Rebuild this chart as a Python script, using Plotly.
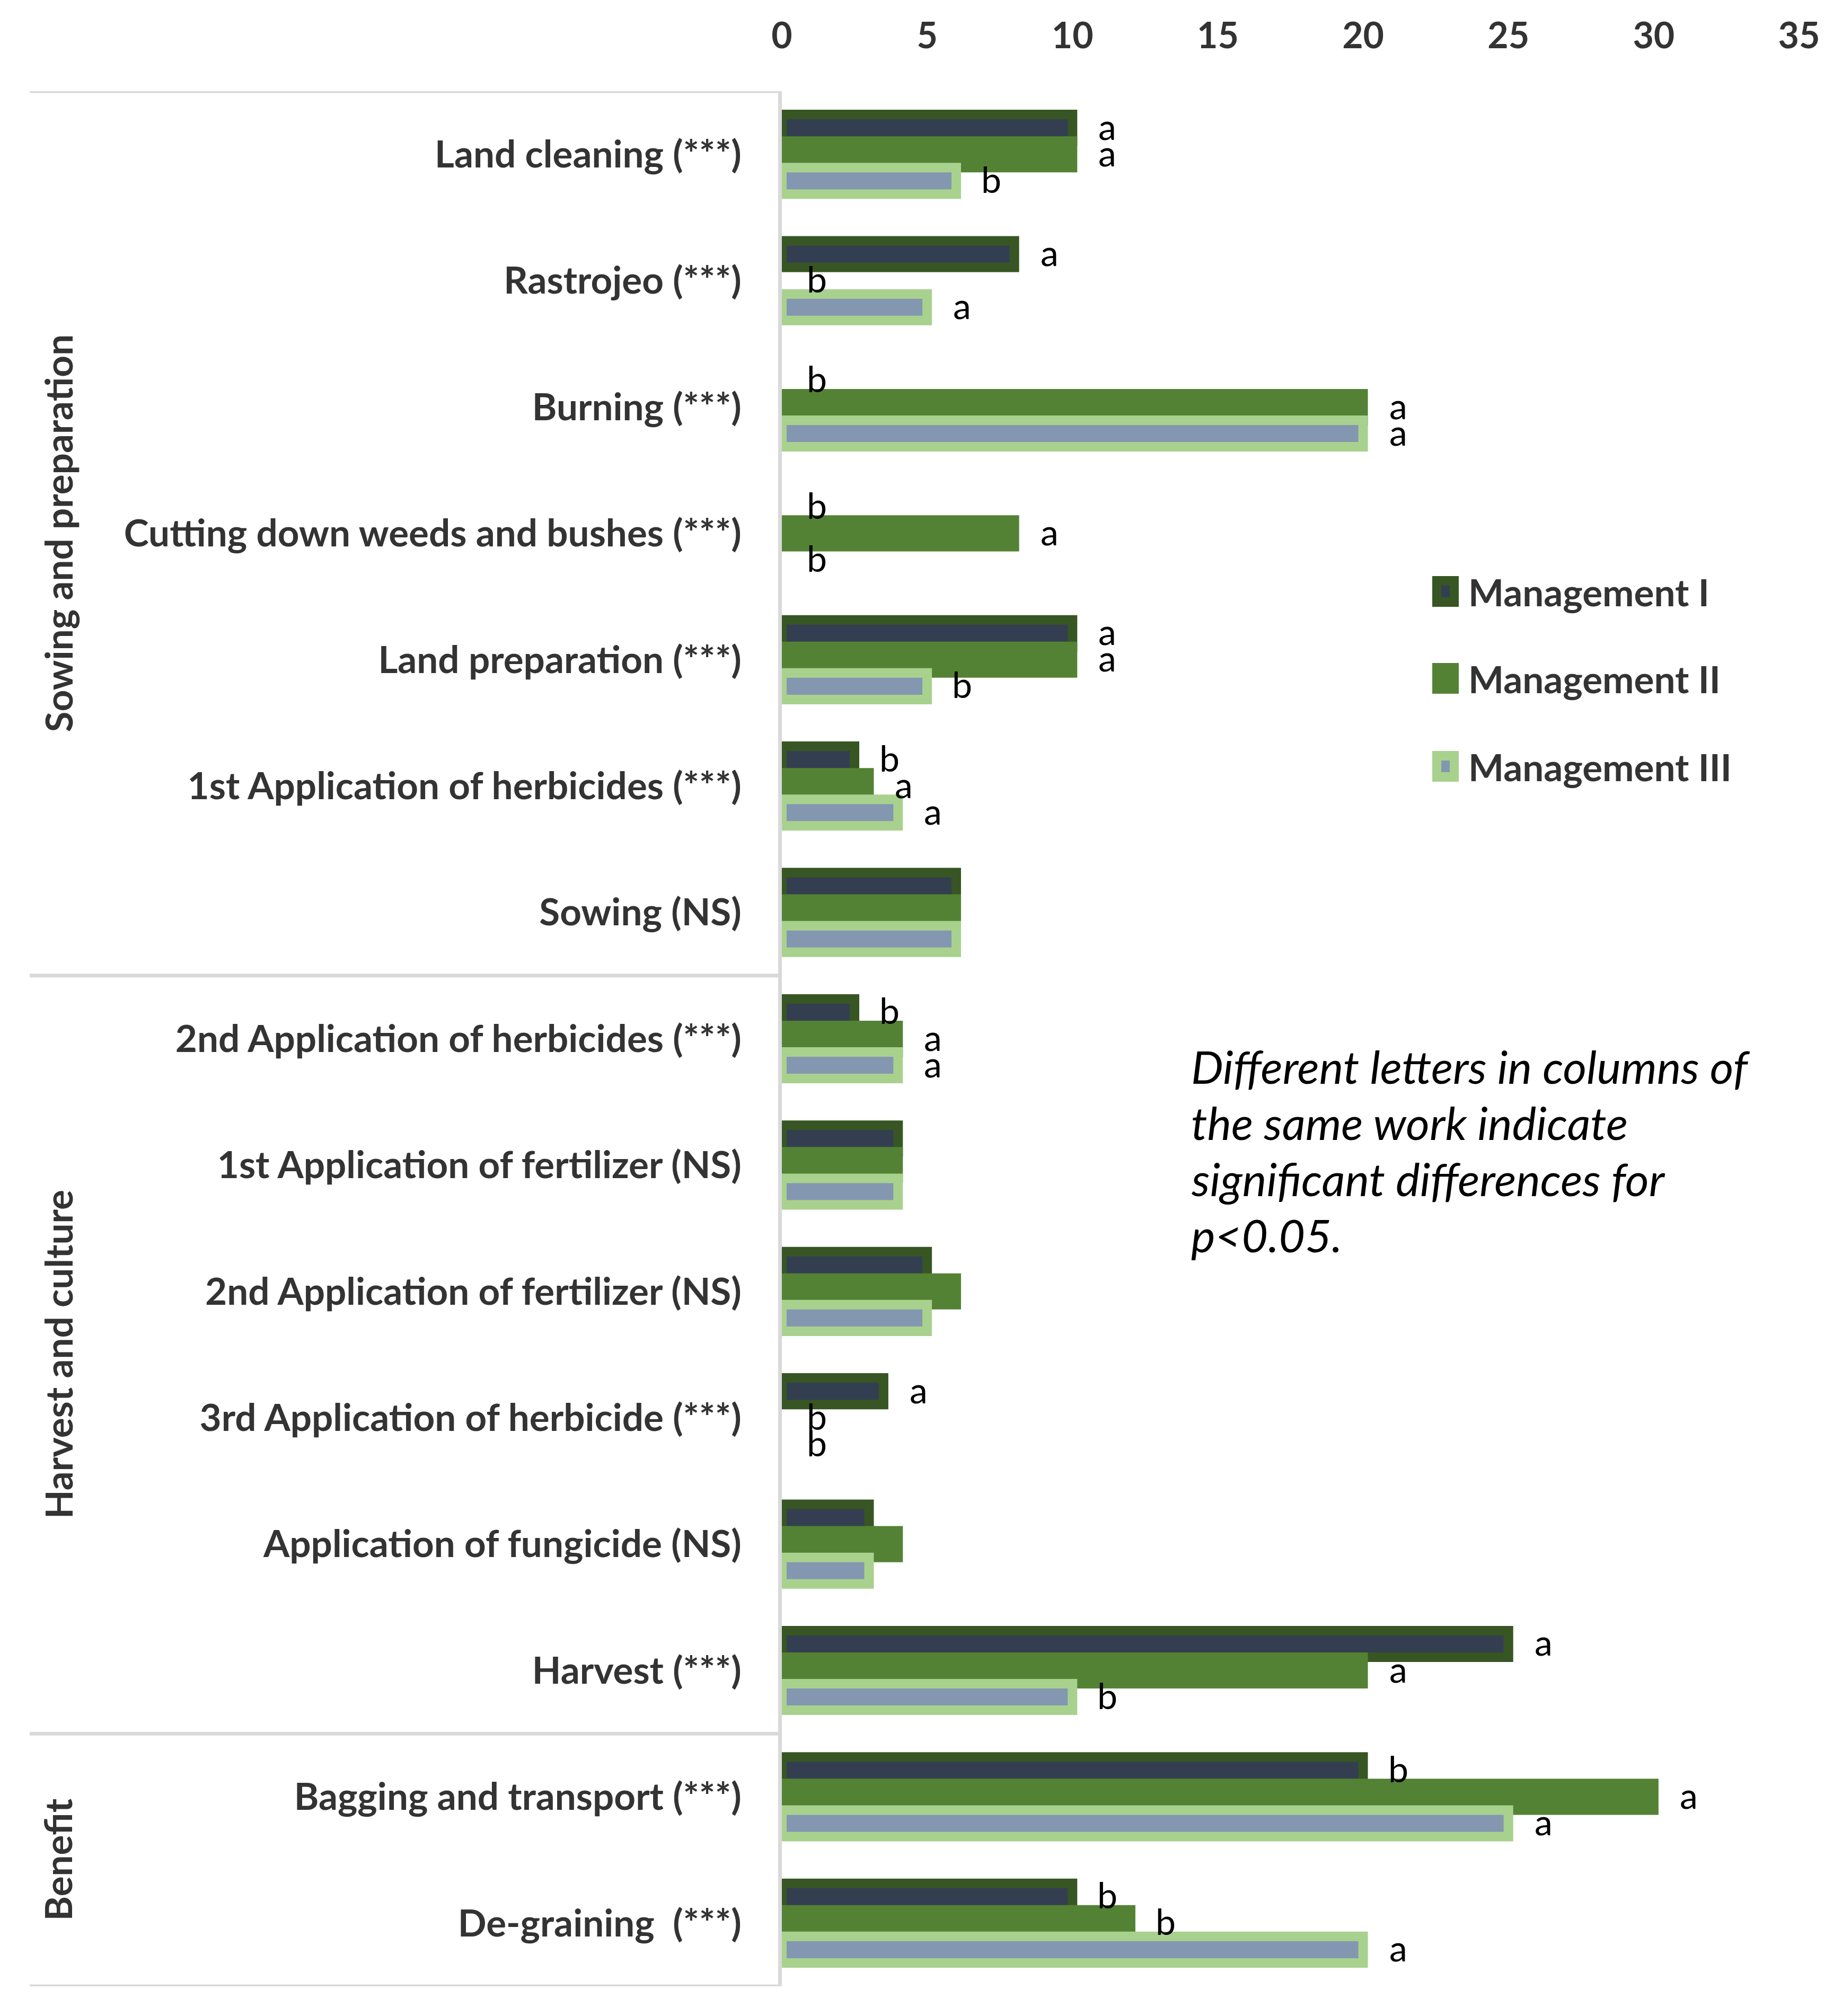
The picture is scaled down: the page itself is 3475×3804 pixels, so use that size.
import plotly.graph_objects as go

categories = [
    "Land cleaning (***)", "Rastrojeo (***)", "Burning (***)",
    "Cutting down weeds and bushes (***)", "Land preparation (***)",
    "1st Application of herbicides (***)", "Sowing (NS)",
    "2nd Application of herbicides (***)", "1st Application of fertilizer (NS)",
    "2nd Application of fertilizer (NS)", "3rd Application of herbicide (***)",
    "Application of fungicide (NS)", "Harvest (***)",
    "Bagging and transport (***)", "De-graining  (***)",
]
group_names = ["Sowing and preparation", "Harvest and culture", "Benefit"]
group_sizes = [7, 6, 2]
series_names = ["Management I", "Management II", "Management III"]
mgmt_1 = [10, 8, 0, 0, 10, 2.5, 6, 2.5, 4, 5, 3.5, 3, 25, 20, 10]
mgmt_2 = [10, 0, 20, 8, 10, 3, 6, 4, 4, 6, 0, 4, 20, 30, 12]
mgmt_3 = [6, 5, 20, 0, 5, 4, 6, 4, 4, 5, 0, 3, 10, 25, 20]
letters_1 = ["a", "a", "b", "b", "a", "b", "", "b", "", "", "a", "", "a", "b", "b"]
letters_2 = ["a", "b", "a", "a", "a", "a", "", "a", "", "", "b", "", "a", "a", "b"]
letters_3 = ["b", "a", "a", "b", "b", "a", "", "a", "", "", "b", "", "b", "a", "a"]
x_ticks = [0, 5, 10, 15, 20, 25, 30, 35]
note_lines = [
    "Different letters in columns of",
    "the same work indicate",
    "significant differences for",
    "p<0.05.",
]

fill_colors = ["#333F50", "#548235", "#8497B0"]
line_colors = ["#375623", "#548235", "#A9D18E"]

W, H = 3475, 3804
ML, MR, MT, MB = 1467, 89, 164, 64
PW = W - ML - MR
PH = H - MT - MB
FONT = "Lato"
TXT = "#333333"


def px_to_paper_x(px):
    return (px - ML) / PW


def px_to_paper_y(py):
    return 1 - (py - MT) / PH


bar_w = 0.21
values = [mgmt_1, mgmt_2, mgmt_3]
letters = [letters_1, letters_2, letters_3]
pos = list(range(len(categories)))

fig = go.Figure()
for k in range(3):
    vals = [v if v > 0 else None for v in values[k]]
    fig.add_trace(go.Bar(
        x=vals, y=pos, orientation="h", name=series_names[k],
        width=bar_w, offset=(k - 1) * bar_w - bar_w / 2,
        marker=dict(color=fill_colors[k], line=dict(color=line_colors[k], width=18)),
        showlegend=False,
    ))

annotations = []
for k in range(3):
    for i, (v, t) in enumerate(zip(values[k], letters[k])):
        if not t:
            continue
        annotations.append(dict(
            x=v, y=i + (k - 1) * bar_w, xref="x", yref="y", text=t,
            showarrow=False, xanchor="center", yanchor="middle", xshift=66, yshift=4,
            font=dict(family=FONT, size=68, color="#000000"),
        ))

# group labels and separator lines
shapes = []
start = -0.5
bounds = [start]
for gname, gsize in zip(group_names, group_sizes):
    end = start + gsize
    annotations.append(dict(
        x=px_to_paper_x(101), y=(start + end) / 2, xref="paper", yref="y",
        text=gname, textangle=-90, showarrow=False, xanchor="center", yanchor="middle",
        font=dict(family=FONT, size=71, color=TXT, weight="bold"),
    ))
    bounds.append(end)
    start = end
for b in bounds:
    shapes.append(dict(type="line", xref="paper", yref="y",
                       x0=px_to_paper_x(48), x1=0, y0=b, y1=b,
                       line=dict(color="#D9D9D9", width=7)))

# legend (manual swatches)
leg_y = [1108, 1272, 1438]
for k in range(3):
    cy = px_to_paper_y(leg_y[k])
    cx = px_to_paper_x(2719)
    shapes.append(dict(type="rect", xref="paper", yref="paper",
                       xsizemode="pixel", ysizemode="pixel", xanchor=cx, yanchor=cy,
                       x0=-25, x1=25, y0=-29, y1=29,
                       fillcolor=line_colors[k], line=dict(width=0)))
    shapes.append(dict(type="rect", xref="paper", yref="paper",
                       xsizemode="pixel", ysizemode="pixel", xanchor=cx, yanchor=cy,
                       x0=-8, x1=8, y0=-11, y1=11,
                       fillcolor=fill_colors[k], line=dict(width=0)))
    annotations.append(dict(
        x=px_to_paper_x(2760), y=cy, xref="paper", yref="paper",
        text=series_names[k], showarrow=False, xanchor="left", yanchor="middle",
        font=dict(family=FONT, size=71, color=TXT, weight="bold"),
    ))

note_y = [2003, 2109, 2215, 2321]
for line, ny in zip(note_lines, note_y):
    annotations.append(dict(
        x=px_to_paper_x(2237), y=px_to_paper_y(ny), xref="paper", yref="paper",
        text="<i>" + line + "</i>", showarrow=False, xanchor="left", yanchor="middle",
        font=dict(family=FONT, size=86, color="#000000"),
    ))

fig.update_layout(
    width=W, height=H,
    margin=dict(l=ML, r=MR, t=MT, b=MB, autoexpand=False),
    paper_bgcolor="white", plot_bgcolor="white",
    barmode="overlay",
    showlegend=False,
    xaxis=dict(
        side="top", range=[0, 35], tickmode="array", tickvals=x_ticks,
        showgrid=False, zeroline=False, showline=False, ticks="",
        tickfont=dict(family=FONT, size=68, color=TXT, weight="bold"),
        ticklabelstandoff=66,
    ),
    yaxis=dict(
        range=[14.5, -0.5], tickmode="array", tickvals=pos, ticktext=categories,
        showgrid=False, zeroline=False, showline=True, linecolor="#D9D9D9", linewidth=7,
        ticks="", ticklabelstandoff=55,
        tickfont=dict(family=FONT, size=71, color=TXT, weight="bold"),
    ),
    shapes=shapes,
    annotations=annotations,
)

fig.write_html("out.html")
